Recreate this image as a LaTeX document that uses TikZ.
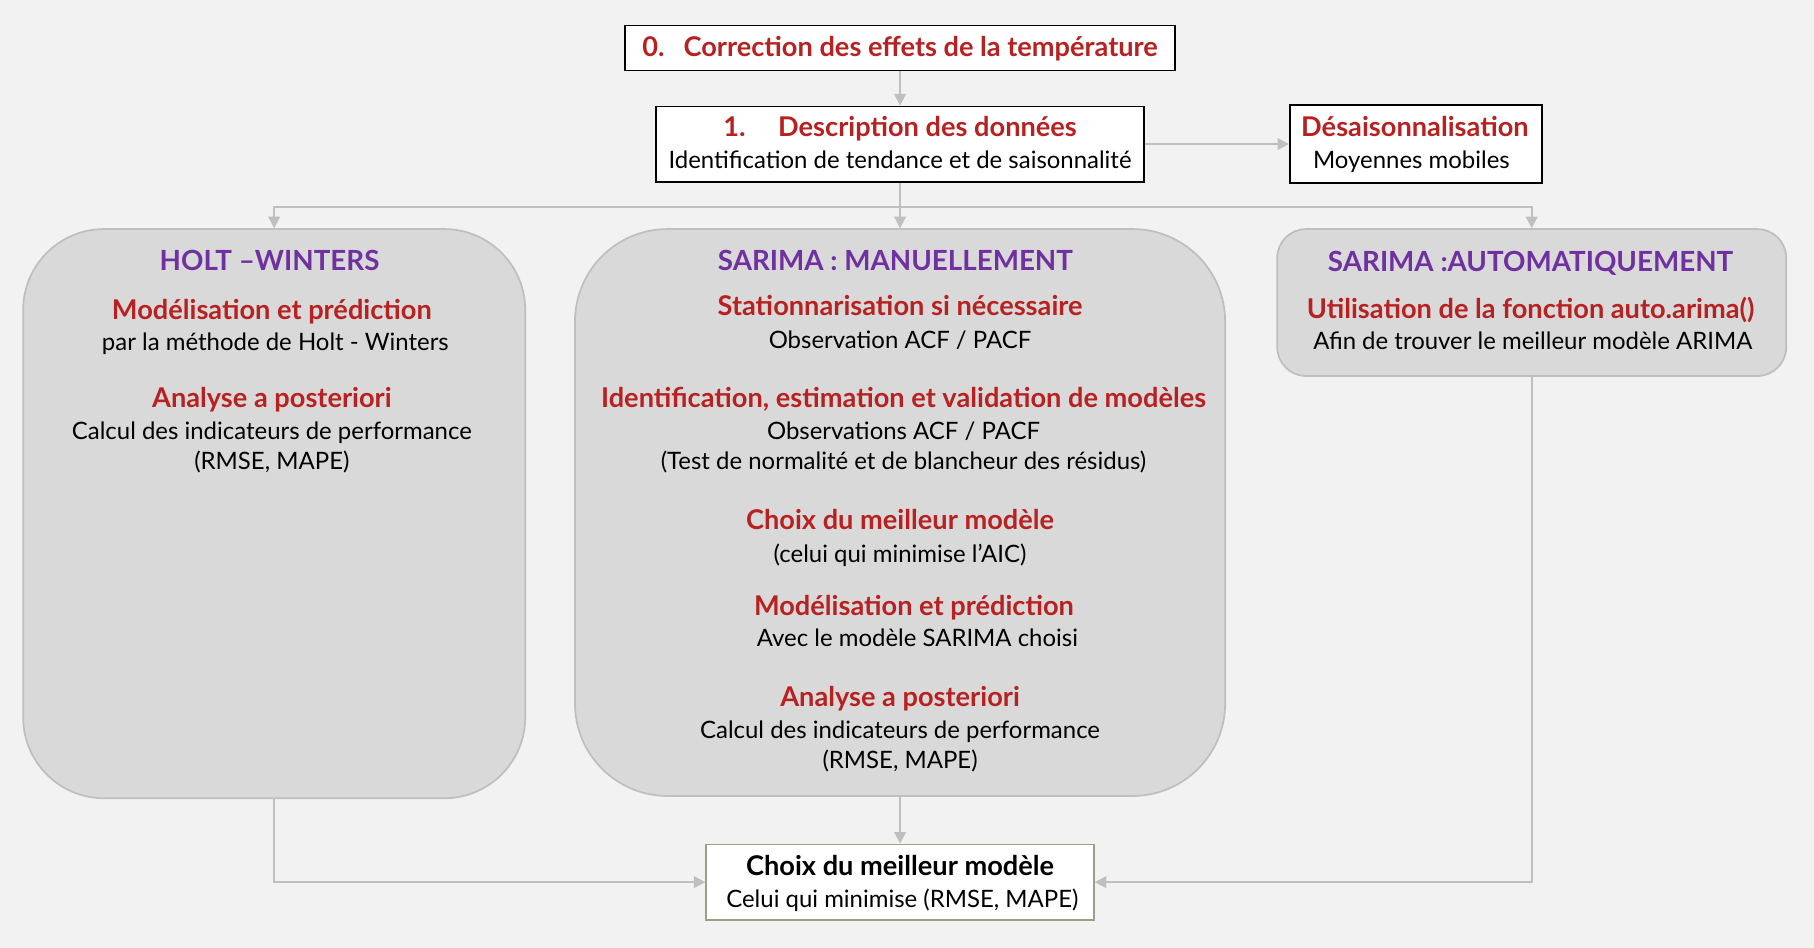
\documentclass[tikz,border=0pt]{standalone}
\usepackage{fontspec}
\setmainfont{Lato}
\usetikzlibrary{arrows.meta,positioning,shapes}

\definecolor{titlered}{HTML}{B82121}
\definecolor{titlepurple}{HTML}{7030A0}
\definecolor{panelgray}{HTML}{D9D9D9}
\definecolor{edgegray}{HTML}{BFBFBF}
\definecolor{bggray}{HTML}{F2F2F2}
\definecolor{olivegray}{HTML}{9E9E86}

\tikzset{
  stepbox/.style={draw=black,line width=1.5pt,fill=white,inner sep=0pt},
  panel/.style={draw=edgegray,line width=1.5pt,fill=panelgray,inner sep=0pt},
  line/.style={inner sep=0pt,text height=17pt,text depth=5pt},
  head/.style={line,font=\bfseries\fontsize{24}{28}\selectfont,text=titlepurple},
  sub/.style={line,font=\bfseries\fontsize{23.5}{28}\selectfont,text=titlered},
  txt/.style={line,font=\fontsize{20.7}{28}\selectfont},
  link/.style={draw=edgegray,line width=1.7pt,-{Triangle[length=10pt,width=10pt]}},
}

\begin{document}
\begin{tikzpicture}[x=1pt,y=-1pt]
    \fill[bggray] (0,0) rectangle (1568,819);
    \useasboundingbox (0,0) rectangle (1568,819);

    % boxes
    \node[stepbox,minimum width=475pt,minimum height=39pt] (temp) at (778,41.5) {};
    \node[stepbox,minimum width=422pt,minimum height=65pt] (descr) at (778,124.5) {};
    \node[stepbox,minimum width=218pt,minimum height=67pt] (deseas) at (1224,124.5) {};
    \node[panel,rounded corners=70pt,minimum width=434pt,minimum height=492pt] (hw) at (237,444) {};
    \node[panel,rounded corners=80pt,minimum width=562pt,minimum height=490pt] (sarman) at (778,443) {};
    \node[panel,rounded corners=25pt,minimum width=440pt,minimum height=127pt] (sarauto) at (1324,261.5) {};
    \node[stepbox,draw=olivegray,minimum width=335pt,minimum height=65pt] (best) at (778,762.5) {};

    % texts of the top boxes
    \node[sub] (tempt) at (778,43) {0.\hspace{0.7em}Correction des effets de la température};
    \node[sub] (descrt) at (778,112) {1.\hspace{1.2em}Description des données};
    \node[txt] (descrb) at (778,140) {Identification de tendance et de saisonnalité};
    \node[sub] (deseast) at (1223,112) {Désaisonnalisation};
    \node[txt] (deseasb) at (1220,140) {Moyennes mobiles};

    % Holt-Winters
    \node[head] (hwh) at (233,228) {HOLT –WINTERS};
    \node[sub] (hw1) at (235,270) {Modélisation et prédiction};
    \node[txt] (hw2) at (238,297) {par la méthode de Holt - Winters};
    \node[sub] (hw3) at (235,346) {Analyse a posteriori};
    \node[txt] (hw4) at (235,374) {Calcul des indicateurs de performance};
    \node[txt] (hw5) at (235,400) {(RMSE, MAPE)};

    % SARIMA manuel
    \node[head] (smh) at (774,228) {SARIMA : MANUELLEMENT};
    \node[sub] (sm1) at (778,267) {Stationnarisation si nécessaire};
    \node[txt] (sm2) at (778,295) {Observation ACF / PACF};
    \node[sub] (sm3) at (781,346) {Identification, estimation et validation de modèles};
    \node[txt] (sm4) at (781,374) {Observations ACF / PACF};
    \node[txt] (sm5) at (781,400) {(Test de normalité et de blancheur des résidus)};
    \node[sub] (sm6) at (778,452) {Choix du meilleur modèle};
    \node[txt] (sm7) at (778,480) {(celui qui minimise l’AIC)};
    \node[sub] (sm8) at (790,526) {Modélisation et prédiction};
    \node[txt] (sm9) at (793,553) {Avec le modèle SARIMA choisi};
    \node[sub] (sm10) at (778,605) {Analyse a posteriori};
    \node[txt] (sm11) at (778,632) {Calcul des indicateurs de performance};
    \node[txt] (sm12) at (778,658) {(RMSE, MAPE)};

    % SARIMA auto
    \node[head] (sah) at (1323,229) {SARIMA :AUTOMATIQUEMENT};
    \node[sub] (sa1) at (1323,269) {Utilisation de la fonction auto.arima()};
    \node[txt] (sa2) at (1325,296) {Afin de trouver le meilleur modèle ARIMA};

    % final choice
    \node[sub,text=black] (bestt) at (778,751) {Choix du meilleur modèle};
    \node[txt] (bestb) at (780,778) {Celui qui minimise (RMSE, MAPE)};

    % connectors
    \coordinate (split) at (778,179);
    \draw[link] (temp) -- (descr);
    \draw[link] (descr.east) -- (deseas.west);
    \draw[draw=edgegray,line width=1.7pt] (descr.south) -- (split);
    \draw[link] (split) -| (hw.north);
    \draw[link] (split) -- (sarman.north);
    \draw[link] (split) -| (sarauto.north);
    \draw[link] (hw.south) |- (best.west);
    \draw[link] (sarman.south) -- (best.north);
    \draw[link] (sarauto.south) |- (best.east);
  \end{tikzpicture}
\end{document}
